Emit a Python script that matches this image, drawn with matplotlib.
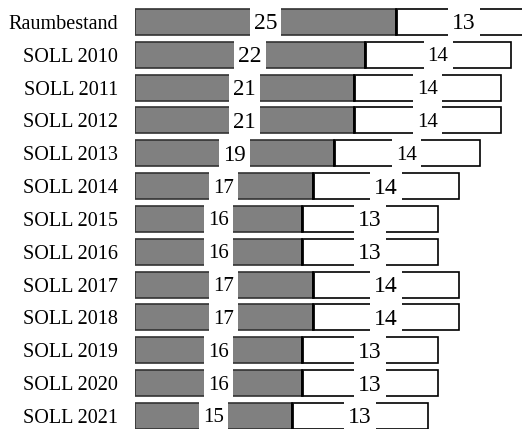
import matplotlib
matplotlib.use("Agg")
import matplotlib.pyplot as plt
from matplotlib.path import Path
from matplotlib.transforms import offset_copy

# Raumbedarf: belegte Räume (grau) und freie Räume (weiß) je Planungsstand
categories = ["Raumbestand", "SOLL 2010", "SOLL 2011", "SOLL 2012", "SOLL 2013",
              "SOLL 2014", "SOLL 2015", "SOLL 2016", "SOLL 2017", "SOLL 2018",
              "SOLL 2019", "SOLL 2020", "SOLL 2021"]
belegt = [25, 22, 21, 21, 19, 17, 16, 16, 17, 17, 16, 16, 15]
frei = [13, 14, 14, 14, 14, 14, 13, 13, 14, 14, 13, 13, 13]

# Schriftgrößen der Wertbeschriftungen
size_belegt = [17, 17, 16.5, 16.5, 16.5, 15, 15, 15, 15, 15, 15, 15, 15]
size_frei = [17, 15, 15, 15, 15, 17, 17, 17, 17, 17, 17, 17, 17]

plt.rcParams["font.family"] = ["Liberation Serif", "DejaVu Serif"]


def label_box(x0, y0, width, height, mutation_size):
    """White box as tall as one row pitch, narrow padding left/right."""
    px = 4.0
    cy = y0 + height / 2 + 2.0
    hh = 17.0
    verts = [(x0 - px, cy - hh), (x0 + width + px, cy - hh),
             (x0 + width + px, cy + hh), (x0 - px, cy + hh), (x0 - px, cy - hh)]
    return Path(verts, closed=True)


fig = plt.figure(figsize=(5.22, 4.29), dpi=100)
ax = fig.add_axes([135 / 522, -0.0079, 387 / 522, 0.995])

y = list(range(len(categories)))
h = 0.79

ax.barh(y, belegt, height=h, color="#808080", edgecolor="#333333", linewidth=1.2)
ax.barh(y, frei, left=belegt, height=h, color="white", edgecolor="black", linewidth=1.2)
# Trennlinie zwischen belegten und freien Räumen
for yi, b in zip(y, belegt):
    ax.plot([b, b], [yi - h / 2, yi + h / 2], color="black", lw=2, solid_capstyle="butt")

box = dict(boxstyle=label_box, facecolor="white", edgecolor="none")
tr = offset_copy(ax.transData, fig=fig, x=0, y=-1.4, units="points")
for yi, b, f, sb, sf in zip(y, belegt, frei, size_belegt, size_frei):
    ax.text(b / 2, yi, str(b), ha="center", va="center", fontsize=sb, bbox=box, transform=tr)
    ax.text(b + f / 2, yi, str(f), ha="center", va="center", fontsize=sf, bbox=box, transform=tr)

ax.set_xlim(0, 37.03)
ax.set_ylim(len(categories) - 0.5, -0.5)
ax.set_yticks(y)
ax.set_yticklabels(categories, fontsize=14.5)
ax.tick_params(axis="y", length=0, pad=12)
ax.set_xticks([])
for s in ax.spines.values():
    s.set_visible(False)

fig.savefig("out.png", dpi=100)
